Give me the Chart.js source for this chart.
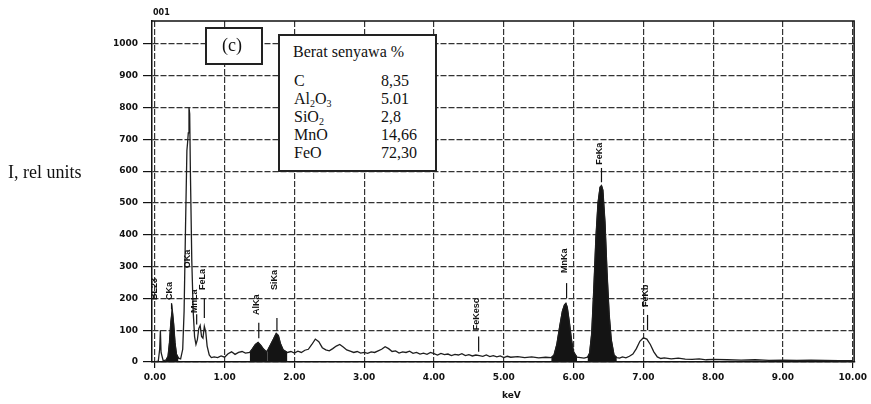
<!DOCTYPE html>
<html>
<head>
<meta charset="utf-8">
<script src="https://cdn.jsdelivr.net/npm/chart.js@4.4.0/dist/chart.umd.min.js"></script>
<style>
  body { margin: 0; background: #fff; }
  #wrap { position: relative; width: 871px; height: 404px; }
  .txt { position: absolute; font-family: 'Liberation Serif', 'DejaVu Serif', serif; color: #111; white-space: nowrap; }
  .box { position: absolute; background: #fff; border: 2px solid #222; box-sizing: border-box; }
  sub { font-size: 10px; vertical-align: -3px; line-height: 0; }
</style>
</head>
<body>
<div id="wrap">
  <canvas id="chart"></canvas>
  <div class="txt" style="left:8px; top:162px; font-size:18px;">I, rel units</div>
  <div class="txt" style="left:153px; top:8px; font-size:8px; font-family:'DejaVu Sans'; font-weight:bold;">001</div>
  <div class="txt" style="left:502px; top:390px; font-size:9px; font-family:'DejaVu Sans'; font-weight:bold;">keV</div>
  <div class="box" style="left:205px; top:27px; width:58px; height:38px;">
    <div class="txt" style="left:15px; top:6px; font-size:18px;">(c)</div>
  </div>
  <div class="box" id="info" style="left:278px; top:34px; width:159px; height:138px;"></div>
</div>
<script>
// Spectrum (keV vs relative intensity)
const spectrumKeV = [
  0.00, 0.05, 0.07, 0.08, 0.09, 0.12, 0.16, 0.19, 0.21, 0.23, 0.25, 0.27, 0.29, 0.31, 0.34, 0.37,
  0.40, 0.42, 0.44, 0.46, 0.47, 0.48, 0.49, 0.50, 0.51, 0.53, 0.55, 0.57, 0.59, 0.61, 0.63, 0.65,
  0.67, 0.69, 0.71, 0.73, 0.75, 0.78, 0.81, 0.85, 0.90, 0.95, 1.00, 1.05, 1.10, 1.15, 1.20, 1.25,
  1.30, 1.36, 1.40, 1.44, 1.48, 1.52, 1.56, 1.60, 1.62, 1.66, 1.70, 1.74, 1.77, 1.80, 1.84, 1.90,
  1.95, 2.00, 2.05, 2.10, 2.15, 2.20, 2.25, 2.30, 2.35, 2.40, 2.45, 2.50, 2.55, 2.60, 2.65, 2.70,
  2.75, 2.80, 2.85, 2.90, 2.95, 3.00, 3.05, 3.10, 3.15, 3.20, 3.25, 3.30, 3.35, 3.40, 3.45, 3.50,
  3.55, 3.60, 3.65, 3.70, 3.75, 3.80, 3.85, 3.90, 3.95, 4.00, 4.05, 4.10, 4.15, 4.20, 4.25, 4.30,
  4.35, 4.40, 4.45, 4.50, 4.55, 4.60, 4.65, 4.70, 4.75, 4.80, 4.85, 4.90, 4.95, 5.00, 5.05, 5.10,
  5.20, 5.30, 5.40, 5.50, 5.60, 5.68, 5.72, 5.76, 5.80, 5.84, 5.87, 5.89, 5.91, 5.94, 5.97, 6.00,
  6.05, 6.10, 6.15, 6.20, 6.23, 6.26, 6.29, 6.32, 6.35, 6.38, 6.40, 6.42, 6.45, 6.48, 6.51, 6.54,
  6.58, 6.62, 6.66, 6.70, 6.75, 6.80, 6.85, 6.90, 6.95, 7.00, 7.05, 7.10, 7.15, 7.20, 7.25, 7.30,
  7.40, 7.50, 7.60, 7.70, 7.80, 7.90, 8.00, 8.20, 8.40, 8.60, 8.80, 9.00, 9.20, 9.40, 9.60, 9.80, 10.00
];
const spectrumCounts = [
  0, 3, 40, 100, 30, 4, 6, 18, 60, 125, 165, 120, 60, 25, 12, 10,
  40, 160, 420, 665, 690, 720, 800, 780, 600, 320, 160, 80, 55, 70, 105, 115,
  80, 75, 112, 95, 50, 22, 14, 16, 14, 19, 15, 26, 32, 24, 30, 33,
  28, 30, 42, 55, 62, 52, 40, 32, 38, 55, 72, 90, 84, 58, 38, 30,
  33, 28, 34, 30, 37, 40, 55, 72, 64, 45, 38, 35, 42, 50, 55, 47,
  38, 34, 30, 33, 28, 30, 27, 32, 30, 35, 40, 48, 42, 33, 35, 28,
  32, 30, 34, 27, 30, 25, 28, 24, 30, 26, 22, 27, 23, 25, 20, 24,
  22, 26, 20, 23, 19, 22, 20, 18, 22, 17, 20, 16, 19, 14, 18, 15,
  17, 14, 16, 13, 15, 14, 22, 55, 110, 160, 180, 185, 172, 125, 70, 32,
  15, 14, 12, 15, 28, 90, 230, 390, 500, 550, 555, 540, 440, 280, 150, 70,
  22, 14, 12, 16, 13, 18, 25, 42, 65, 76, 72, 55, 32, 16, 11, 13,
  10, 12, 9, 8, 10, 7, 8, 7, 6, 7, 5, 6, 5, 6, 5, 4, 4
];

// Shaded peaks (keV ranges)
const filledNames = ['C', 'Al', 'Si', 'Mn', 'Fe'];
const filledFrom = [0.16, 1.36, 1.62, 5.68, 6.20];
const filledTo = [0.34, 1.62, 1.90, 6.05, 6.62];

// Peak markers
const markerNames = ['BL23', 'CKa', 'OKa', 'MnLa', 'FeLa', 'AlKa', 'SiKa', 'FeKesc', 'MnKa', 'FeKa', 'FeKb'];
const markerKeV = [0.03, 0.24, 0.50, 0.60, 0.71, 1.49, 1.75, 4.64, 5.90, 6.40, 7.06];
const markerLineLow = [0, 165, 0, 118, 138, 75, 100, 32, 200, 565, 100];
const markerLineHigh = [0, 185, 0, 150, 200, 123, 138, 80, 248, 610, 148];
const markerLabelAt = [195, 195, 295, 154, 226, 148, 226, 100, 280, 620, 173];

// Composition table
const compNames = ['C', 'Al<sub>2</sub>O<sub>3</sub>', 'SiO<sub>2</sub>', 'MnO', 'FeO'];
const compValues = ['8,35', '5.01', '2,8', '14,66', '72,30'];

const xTicks = [0, 1, 2, 3, 4, 5, 6, 7, 8, 9, 10];
const yTicks = [0, 100, 200, 300, 400, 500, 600, 700, 800, 900, 1000];

// Info box text
const info = document.getElementById('info');
let html = '<div class="txt" style="left:13px; top:7px; font-size:16px;">Berat senyawa %</div>';
compNames.forEach((n, i) => {
  html += `<div class="txt" style="left:14px; top:${36 + i * 18}px; font-size:16px;">${n}</div>`;
  html += `<div class="txt" style="left:101px; top:${36 + i * 18}px; font-size:16px;">${compValues[i]}</div>`;
});
info.innerHTML = html;

const spectrum = spectrumKeV.map((x, i) => ({ x, y: spectrumCounts[i] }));

const filledSets = filledNames.map((name, k) => ({
  label: name,
  data: spectrum.filter(p => p.x >= filledFrom[k] && p.x <= filledTo[k]),
  borderColor: '#141414',
  backgroundColor: '#141414',
  borderWidth: 1,
  pointRadius: 0,
  fill: 'origin'
}));

const frameAndMarkers = {
  id: 'frameAndMarkers',
  afterDatasetsDraw(chart) {
    const { ctx, chartArea: a, scales: { x, y } } = chart;
    ctx.save();
    ctx.strokeStyle = '#111';
    ctx.lineWidth = 1.5;
    ctx.beginPath();
    ctx.moveTo(a.left, a.top);
    ctx.lineTo(a.right, a.top);
    ctx.lineTo(a.right, a.bottom);
    ctx.stroke();

    ctx.lineWidth = 1.2;
    ctx.fillStyle = '#111';
    ctx.font = 'bold 9px "Liberation Sans", sans-serif';
    ctx.textBaseline = 'middle';
    ctx.textAlign = 'left';
    markerNames.forEach((name, i) => {
      const px = x.getPixelForValue(markerKeV[i]);
      if (markerLineHigh[i] > markerLineLow[i]) {
        ctx.beginPath();
        ctx.moveTo(px, y.getPixelForValue(markerLineLow[i]));
        ctx.lineTo(px, y.getPixelForValue(markerLineHigh[i]));
        ctx.stroke();
      }
      ctx.save();
      ctx.translate(px - 2, y.getPixelForValue(markerLabelAt[i]));
      ctx.rotate(-Math.PI / 2);
      ctx.fillText(name, 0, 0);
      ctx.restore();
    });
    ctx.restore();
  }
};

const tickFont = { family: 'DejaVu Sans', size: 9, weight: 'bold' };

new Chart(document.getElementById('chart'), {
  type: 'line',
  data: {
    datasets: [
      {
        label: 'spectrum',
        data: spectrum,
        borderColor: '#1e1e1e',
        borderWidth: 1.3,
        pointRadius: 0,
        tension: 0,
        fill: false
      },
      ...filledSets
    ]
  },
  options: {
    responsive: true,
    maintainAspectRatio: false,
    animation: false,
    layout: { padding: { left: 0, top: 21, right: 13, bottom: 0 } },
    plugins: { legend: { display: false }, tooltip: { enabled: false } },
    scales: {
      x: {
        type: 'linear',
        min: -0.04,
        max: 10.02,
        afterBuildTicks: s => { s.ticks = xTicks.map(v => ({ value: v })); },
        afterFit: s => { s.height = 42; },
        ticks: {
          color: '#111',
          font: tickFont,
          padding: 4,
          maxRotation: 0,
          callback: v => v.toFixed(2)
        },
        grid: { color: '#333', lineWidth: 1.2, tickLength: 6, tickColor: '#111', tickWidth: 1.2 },
        border: { color: '#111', width: 1.5, dash: [6, 2] }
      },
      y: {
        min: 0,
        max: 1072,
        afterBuildTicks: s => { s.ticks = yTicks.map(v => ({ value: v })); },
        afterFit: s => { s.width = 152; },
        ticks: { color: '#111', font: tickFont, padding: 5, callback: v => String(v) },
        grid: { color: '#333', lineWidth: 1.2, tickLength: 9, tickColor: '#111', tickWidth: 1.2 },
        border: { color: '#111', width: 1.5, dash: [6, 2] }
      }
    }
  },
  plugins: [frameAndMarkers]
});
</script>
</body>
</html>
